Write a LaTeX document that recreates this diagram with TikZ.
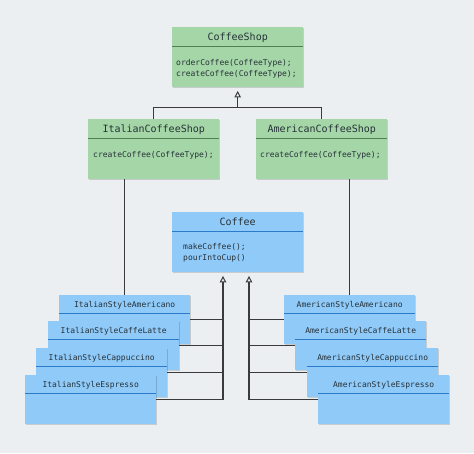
\documentclass[tikz,border=0pt]{standalone}
\usepackage{fontspec}
\setmonofont{DejaVu Sans Mono}
\usetikzlibrary{arrows.meta,shadows,calc}
\definecolor{bg}{HTML}{ECEFF2}
\definecolor{gfill}{HTML}{A5D6A7}
\definecolor{gline}{HTML}{4F8052}
\definecolor{bfill}{HTML}{90CAF9}
\definecolor{bline}{HTML}{2A7CCB}
\definecolor{wire}{HTML}{3A3A3A}
\definecolor{txt}{HTML}{263238}
\begin{document}
\begin{tikzpicture}[x=1pt,y=-1pt,
  shadowed/.style={drop shadow={shadow xshift=0.6pt,shadow yshift=-0.6pt,opacity=0.15,fill=black}},
  shop/.style={shadowed,fill=gfill,minimum width=131pt,minimum height=60pt,anchor=north west,inner sep=0pt},
  kind/.style={shadowed,fill=bfill,minimum width=131pt,minimum height=60pt,anchor=north west,inner sep=0pt},
  leaf/.style={shadowed,fill=bfill,minimum width=131pt,minimum height=49pt,anchor=north west,inner sep=0pt},
  gsep/.style={draw=gline,line width=1.2pt},
  bsep/.style={draw=bline,line width=1.2pt},
  ctitle/.style={font=\ttfamily\fontsize{10}{12}\selectfont,text=txt,anchor=base,inner sep=0pt},
  ltitle/.style={font=\ttfamily\fontsize{8}{10}\selectfont,text=txt,anchor=base,inner sep=0pt},
  meth/.style={font=\ttfamily\fontsize{8}{11}\selectfont,text=txt,anchor=base west,inner sep=0pt,align=left},
  wire/.style={draw=wire,line width=1.2pt},
  gen/.style={wire,shorten >=3.5pt,-{Triangle[open,width=6.5pt,length=6.5pt,line width=1pt]}}
]
\fill[bg] (0,0) rectangle (474,453);
\useasboundingbox (0,0) rectangle (474,453);

% CoffeeShop
\node[shop] (cs) at (172,27) {};
\draw[gsep] ([yshift=-19.5pt]cs.north west) -- ([yshift=-19.5pt]cs.north east);
\node[ctitle] (csT) at ($(cs.north)+(0,13.5)$) {CoffeeShop};
\node[meth] (csM) at ($(cs.north west)+(4,49)$) {orderCoffee(CoffeeType);\\createCoffee(CoffeeType);};

% ItalianCoffeeShop
\node[shop] (ics) at (88,119) {};
\draw[gsep] ([yshift=-19.5pt]ics.north west) -- ([yshift=-19.5pt]ics.north east);
\node[ctitle] (icsT) at ($(ics.north)+(0,13.5)$) {ItalianCoffeeShop};
\node[meth] (icsM) at ($(ics.north west)+(5,38)$) {createCoffee(CoffeeType);};

% AmericanCoffeeShop
\node[shop] (acs) at (256,119) {};
\draw[gsep] ([yshift=-19.5pt]acs.north west) -- ([yshift=-19.5pt]acs.north east);
\node[ctitle] (acsT) at ($(acs.north)+(0,13.5)$) {AmericanCoffeeShop};
\node[meth] (acsM) at ($(acs.north west)+(4,38)$) {createCoffee(CoffeeType);};

% Coffee
\node[kind] (cf) at (172,212) {};
\draw[bsep] ([yshift=-19.5pt]cf.north west) -- ([yshift=-19.5pt]cf.north east);
\node[ctitle] (cfT) at ($(cf.north)+(0,13.5)$) {Coffee};
\node[meth] (cfM) at ($(cf.north west)+(11,48)$) {makeCoffee();\\pourIntoCup()};

% shop inheritance
\coordinate (bar) at ($(cs.south)+(0,20)$);
\draw[wire] (ics.north) |- (bar) -| (acs.north);
\draw[gen] (bar) -- (cs.south);

% Italian stack
\node[leaf] (isa) at (59,295) {};
\draw[bsep] ([yshift=-18.5pt]isa.north west) -- ([yshift=-18.5pt]isa.north east);
\node[ltitle] (isaT) at ($(isa.north)+(0,12)$) {ItalianStyleAmericano};
\node[leaf] (isl) at (48,321) {};
\draw[bsep] ([yshift=-18.5pt]isl.north west) -- ([yshift=-18.5pt]isl.north east);
\node[ltitle] (islT) at ($(isl.north)+(0,12)$) {ItalianStyleCaffeLatte};
\node[leaf] (isc) at (36,348) {};
\draw[bsep] ([yshift=-18.5pt]isc.north west) -- ([yshift=-18.5pt]isc.north east);
\node[ltitle] (iscT) at ($(isc.north)+(0,12)$) {ItalianStyleCappuccino};
\node[leaf] (ise) at (25,375) {};
\draw[bsep] ([yshift=-18.5pt]ise.north west) -- ([yshift=-18.5pt]ise.north east);
\node[ltitle] (iseT) at ($(ise.north)+(0,12)$) {ItalianStyleEspresso};

% American stack
\node[leaf] (asa) at (284,295) {};
\draw[bsep] ([yshift=-18.5pt]asa.north west) -- ([yshift=-18.5pt]asa.north east);
\node[ltitle] (asaT) at ($(asa.north)+(0,12)$) {AmericanStyleAmericano};
\node[leaf] (asl) at (295,321) {};
\draw[bsep] ([yshift=-18.5pt]asl.north west) -- ([yshift=-18.5pt]asl.north east);
\node[ltitle] (aslT) at ($(asl.north)+(0,12)$) {AmericanStyleCaffeLatte};
\node[leaf] (asc) at (307,348) {};
\draw[bsep] ([yshift=-18.5pt]asc.north west) -- ([yshift=-18.5pt]asc.north east);
\node[ltitle] (ascT) at ($(asc.north)+(0,12)$) {AmericanStyleCappuccino};
\node[leaf] (ase) at (318,375) {};
\draw[bsep] ([yshift=-18.5pt]ase.north west) -- ([yshift=-18.5pt]ase.north east);
\node[ltitle] (aseT) at ($(ase.north)+(0,12)$) {AmericanStyleEspresso};

% shops to first products
\draw[wire] (ics.south -| isa.north) -- (isa.north);
\draw[wire] (acs.south -| asa.north) -- (asa.north);

% product inheritance
\coordinate (lt) at ($(cf.south west)+(51,0)$);
\coordinate (rt) at ($(cf.south west)+(77,0)$);
\draw[gen] (ise.east) -| (lt);
\draw[wire] (isa.east) -- (isa.east -| lt);
\draw[wire] (isl.east) -- (isl.east -| lt);
\draw[wire] (isc.east) -- (isc.east -| lt);
\draw[gen] (ase.west) -| (rt);
\draw[wire] (asa.west) -- (asa.west -| rt);
\draw[wire] (asl.west) -- (asl.west -| rt);
\draw[wire] (asc.west) -- (asc.west -| rt);
\end{tikzpicture}
\end{document}
